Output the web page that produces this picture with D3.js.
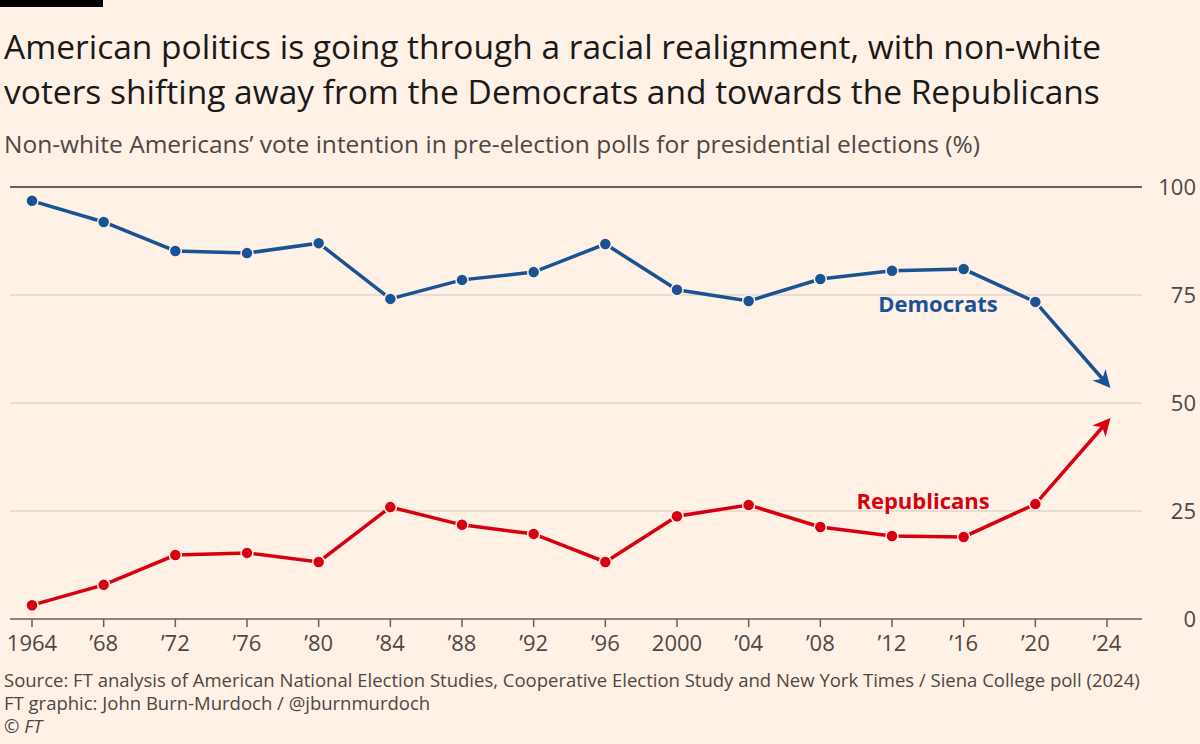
<!DOCTYPE html>
<html><head><meta charset="utf-8">
<script src="https://d3js.org/d3.v7.min.js"></script>
<style>
body{margin:0;background:#fff1e5;font-family:"Open Sans",sans-serif;}
</style></head><body>
<svg id="chart" width="1200" height="744"></svg>
<script>
const years = [1964,1968,1972,1976,1980,1984,1988,1992,1996,2000,2004,2008,2012,2016,2020,2024];
const yearLabels = ["1964","’68","’72","’76","’80","’84","’88","’92","’96","2000","’04","’08","’12","’16","’20","’24"];
const democrats = [96.8,91.9,85.2,84.7,87.0,74.1,78.5,80.3,86.8,76.2,73.6,78.7,80.6,81.0,73.4,54.4];
const republicans = [3.2,7.9,14.8,15.3,13.2,25.9,21.8,19.7,13.2,23.8,26.4,21.3,19.2,19.0,26.6,45.6];
const yTicks = [0,25,50,75,100];

const svg = d3.select("#chart");
svg.append("rect").attr("x",0).attr("y",0).attr("width",103).attr("height",7).attr("fill","#000");

svg.append("text").attr("x",4).attr("y",59).attr("font-size",33.5).attr("fill","#1a1a1a")
  .text("American politics is going through a racial realignment, with non-white");
svg.append("text").attr("x",4).attr("y",104).attr("font-size",33.5).attr("fill","#1a1a1a")
  .text("voters shifting away from the Democrats and towards the Republicans");
svg.append("text").attr("x",4).attr("y",153).attr("font-size",24.5).attr("fill","#4d4845")
  .text("Non-white Americans’ vote intention in pre-election polls for presidential elections (%)");

const x = d3.scalePoint().domain(years).range([32,1107]);
const y = d3.scaleLinear().domain([0,100]).range([619,187]);

const g = svg.append("g");
yTicks.forEach(t => {
  g.append("line").attr("x1",10).attr("x2",1142).attr("y1",y(t)).attr("y2",y(t))
    .attr("stroke", t===100 ? "#33302e" : (t===0 ? "#66605c" : "#e0d6cc"))
    .attr("stroke-width",1.5);
  g.append("text").attr("x",1196).attr("y",y(t)+8).attr("text-anchor","end")
    .attr("font-size",22).attr("fill","#4d4845").text(t);
});
years.forEach((yr,i) => {
  g.append("line").attr("x1",x(yr)).attr("x2",x(yr)).attr("y1",619).attr("y2",627)
    .attr("stroke","#66605c").attr("stroke-width",1.5);
  g.append("text").attr("x",x(yr)).attr("y",651).attr("text-anchor","middle")
    .attr("font-size",22).attr("fill","#4d4845").text(yearLabels[i]);
});

const defs = svg.append("defs");
[["dem","#1a5394"],["rep","#d7000f"]].forEach(([id,c]) => {
  defs.append("marker").attr("id","arr-"+id).attr("viewBox","0 0 10 10").attr("refX",7).attr("refY",5)
    .attr("markerWidth",5).attr("markerHeight",5).attr("orient","auto")
    .append("path").attr("d","M0,0 L10,5 L0,10 L3,5 Z").attr("fill",c);
});

function series(vals,color,id){
  const pts = years.map((yr,i)=>[x(yr),y(vals[i])]);
  g.append("path").attr("d",d3.line()(pts)).attr("fill","none").attr("stroke",color)
    .attr("stroke-width",3.5).attr("marker-end","url(#arr-"+id+")");
  g.selectAll(null).data(pts.slice(0,-1)).enter().append("circle")
    .attr("cx",d=>d[0]).attr("cy",d=>d[1]).attr("r",6).attr("fill",color)
    .attr("stroke","#fff1e5").attr("stroke-width",1.5);
}
series(democrats,"#1a5394","dem");
series(republicans,"#d7000f","rep");

g.append("text").attr("x",938).attr("y",312).attr("text-anchor","middle").attr("font-size",22)
  .attr("font-weight","bold").attr("fill","#1a5394").text("Democrats");
g.append("text").attr("x",923).attr("y",509).attr("text-anchor","middle").attr("font-size",22)
  .attr("font-weight","bold").attr("fill","#d7000f").text("Republicans");

const foot = ["Source: FT analysis of American National Election Studies, Cooperative Election Study and New York Times / Siena College poll (2024)",
  "FT graphic: John Burn-Murdoch / @jburnmurdoch"];
foot.forEach((t,i)=>svg.append("text").attr("x",4).attr("y",687+i*23).attr("font-size",18.5)
  .attr("fill","#4d4845").text(t));
svg.append("text").attr("x",4).attr("y",733).attr("font-size",18.5).attr("fill","#4d4845")
  .attr("font-style","italic").text("© FT");
</script>
</body></html>
